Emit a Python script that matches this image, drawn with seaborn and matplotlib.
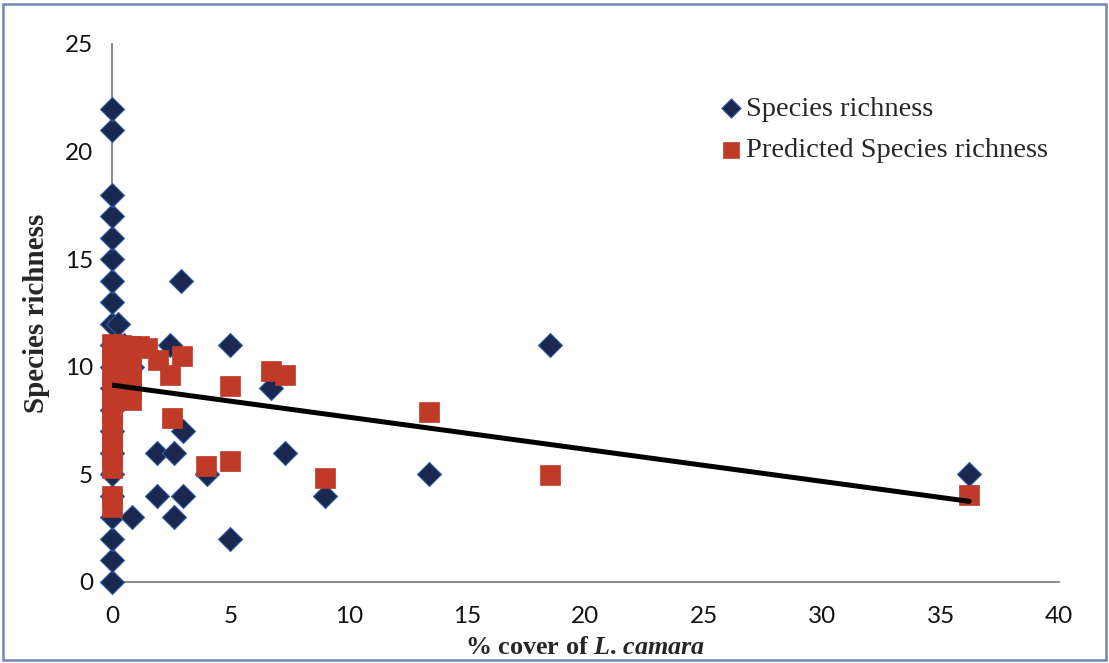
import matplotlib
matplotlib.use("Agg")
import matplotlib.pyplot as plt
import seaborn as sns
import pandas as pd
from matplotlib.patches import Rectangle

# ---- data ----
obs_cover = [0, 0, 0, 0, 0, 0, 0, 0, 0, 0, 0, 0, 0, 0, 0, 0, 0, 0, 0, 0, 0,
             0.25, 0.5, 0.83, 0.85, 1.9, 2.6, 1.9, 3.0, 2.6, 2.45, 2.9, 3.0,
             4.0, 5.0, 5.0, 6.7, 7.3, 9.0, 13.4, 18.5, 36.2]
obs_richness = [0, 1, 2, 3, 4, 5, 6, 7, 8, 9, 10, 11, 12, 13, 14, 15, 16, 17, 18, 21, 22,
                12, 11, 3, 10, 6, 6, 4, 4, 3, 11, 14, 7,
                5, 11, 2, 9, 6, 4, 5, 11, 5]

pred_cover = [0, 0, 0, 0, 0, 0, 0, 0, 0, 0, 0, 0, 0, 0, 0,
              0.8, 0.8, 0.8, 0.8, 0.8, 0.8, 0.4, 1.15, 1.47,
              1.94, 2.45, 2.94, 5.0, 6.7, 7.3, 2.55, 3.95, 5.0, 9.0, 13.4, 18.5, 36.2]
pred_richness = [3.5, 4.0, 5.3, 5.8, 6.3, 6.8, 7.3, 7.8, 8.3, 8.8, 9.3, 9.8, 10.3, 10.7, 11.05,
                 8.45, 9.0, 9.5, 10.0, 10.5, 10.95, 11.0, 10.95, 10.87,
                 10.3, 9.6, 10.5, 9.1, 9.8, 9.6, 7.6, 5.4, 5.6, 4.85, 7.9, 4.95, 4.05]

trend_cover = [0, 36.2]
trend_richness = [9.15, 3.75]

x_ticks = [0, 5, 10, 15, 20, 25, 30, 35, 40]
y_ticks = [0, 5, 10, 15, 20, 25]

obs = pd.DataFrame({"cover": obs_cover, "richness": obs_richness})
pred = pd.DataFrame({"cover": pred_cover, "richness": pred_richness})
trend = pd.DataFrame({"cover": trend_cover, "richness": trend_richness})

sns.set_theme(style="white")
plt.rcParams["font.family"] = ["Lato", "DejaVu Sans"]
plt.rcParams["mathtext.fontset"] = "custom"
plt.rcParams["mathtext.rm"] = "Liberation Serif:bold"
plt.rcParams["mathtext.it"] = "Liberation Serif:italic:bold"
plt.rcParams["mathtext.bf"] = "Liberation Serif:bold"
plt.rcParams["mathtext.bfit"] = "Liberation Serif:italic:bold"

fig = plt.figure(figsize=(11.09, 6.63), dpi=100)
ax = fig.add_axes([112 / 1109, (663 - 582) / 663, (1059 - 112) / 1109, (582 - 44) / 663])

navy = "#1A2850"
red = "#BF3A27"

sns.scatterplot(data=obs, x="cover", y="richness", marker="D", s=150,
                color=navy, edgecolor="#2F5FA8", linewidth=0.8,
                label="Species richness", ax=ax, clip_on=False, zorder=3)
sns.scatterplot(data=pred, x="cover", y="richness", marker="s", s=215,
                color=red, edgecolor=red, linewidth=0.5,
                label="Predicted Species richness", ax=ax, clip_on=False, zorder=4)
sns.lineplot(data=trend, x="cover", y="richness", color="black", linewidth=3.6,
             ax=ax, zorder=5)

ax.set_xlim(0, 40)
ax.set_ylim(0, 25)
ax.set_xticks(x_ticks)
ax.set_yticks(y_ticks)
ax.tick_params(axis="both", which="both", direction="out", length=4, width=1.2,
               color="#808080", labelsize=17.5, labelcolor="#111111")
ax.tick_params(axis="x", pad=13)
ax.tick_params(axis="y", pad=9.5)
for side in ["top", "right"]:
    ax.spines[side].set_visible(False)
for side in ["left", "bottom"]:
    ax.spines[side].set_color("#808080")
    ax.spines[side].set_linewidth(1.3)

ax.set_xlabel("% cover of $\\mathbfit{L}$. $\\mathbfit{camara}$", family="Liberation Serif",
              fontweight="bold", fontsize=18.8, labelpad=7)
ax.set_ylabel("Species richness", family="Liberation Serif", fontweight="bold",
              fontsize=21, labelpad=11)

leg = ax.legend(loc="upper left", bbox_to_anchor=(0.627, 0.925), frameon=False,
                prop={"family": "Liberation Serif", "size": 20.5},
                handletextpad=0.0, labelspacing=0.55, borderaxespad=0,
                handlelength=1.0, markerscale=0.8)

# figure border
fig.patches.append(Rectangle((0.003, 0.004), 0.994, 0.99, transform=fig.transFigure,
                             fill=False, edgecolor="#6f86b5", linewidth=1.8))

fig.savefig("out.png", dpi=100)
